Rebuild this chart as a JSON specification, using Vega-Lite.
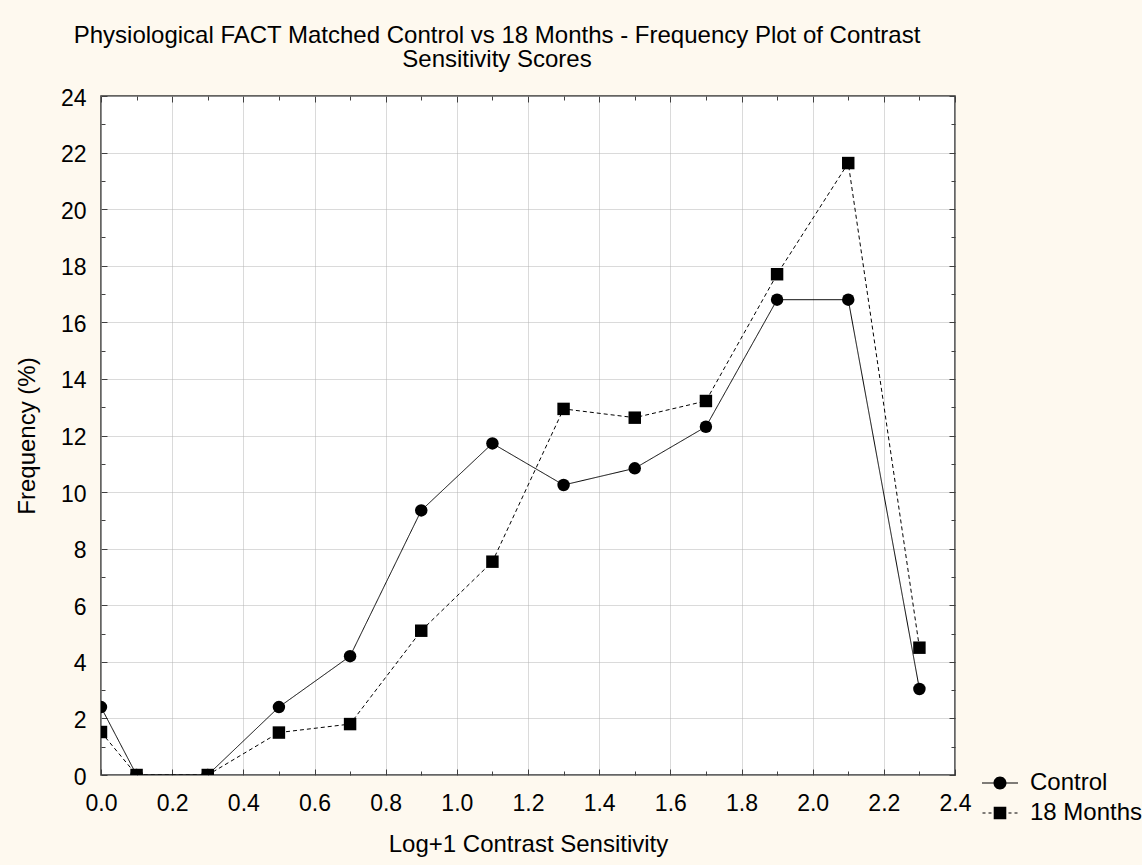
{
  "$schema": "https://vega.github.io/schema/vega-lite/v6.json",
  "width": 854,
  "height": 679,
  "autosize": {"type": "none"},
  "padding": {"left": 101, "top": 96, "right": 187, "bottom": 90},
  "background": "#FEF9EF",
  "config": {
    "view": {"stroke": "#333333", "strokeWidth": 1.5, "fill": "white"},
    "font": "Liberation Sans",
    "axis": {
      "labelFont": "Liberation Sans",
      "labelFontSize": 23,
      "labelColor": "black",
      "titleFont": "Liberation Sans",
      "titleFontSize": 24,
      "titleFontWeight": "normal",
      "titleColor": "black",
      "tickColor": "#404040",
      "tickWidth": 1,
      "domain": false,
      "labelOverlap": false,
      "labelFlush": false
    }
  },
  "title": {
    "text": ["Physiological FACT Matched Control vs 18 Months - Frequency Plot of Contrast", "Sensitivity Scores"],
    "font": "Liberation Sans",
    "fontSize": 24,
    "fontWeight": "normal",
    "color": "black",
    "anchor": "middle",
    "frame": "group",
    "dx": -31,
    "dy": 35,
    "offset": 26,
    "baseline": "bottom",
    "lineHeight": 24
  },
  "data": {
    "values": [
      {"x": 0.0, "group": "Control", "freq": 2.4},
      {"x": 0.1, "group": "Control", "freq": 0},
      {"x": 0.3, "group": "Control", "freq": 0},
      {"x": 0.5, "group": "Control", "freq": 2.4},
      {"x": 0.7, "group": "Control", "freq": 4.2},
      {"x": 0.9, "group": "Control", "freq": 9.35},
      {"x": 1.1, "group": "Control", "freq": 11.72},
      {"x": 1.3, "group": "Control", "freq": 10.25},
      {"x": 1.5, "group": "Control", "freq": 10.84},
      {"x": 1.7, "group": "Control", "freq": 12.31},
      {"x": 1.9, "group": "Control", "freq": 16.8},
      {"x": 2.1, "group": "Control", "freq": 16.8},
      {"x": 2.3, "group": "Control", "freq": 3.04},
      {"x": 0.0, "group": "18 Months", "freq": 1.52},
      {"x": 0.1, "group": "18 Months", "freq": 0},
      {"x": 0.3, "group": "18 Months", "freq": 0},
      {"x": 0.5, "group": "18 Months", "freq": 1.5},
      {"x": 0.7, "group": "18 Months", "freq": 1.8},
      {"x": 0.9, "group": "18 Months", "freq": 5.1},
      {"x": 1.1, "group": "18 Months", "freq": 7.54},
      {"x": 1.3, "group": "18 Months", "freq": 12.94},
      {"x": 1.5, "group": "18 Months", "freq": 12.63},
      {"x": 1.7, "group": "18 Months", "freq": 13.22},
      {"x": 1.9, "group": "18 Months", "freq": 17.7},
      {"x": 2.1, "group": "18 Months", "freq": 21.63},
      {"x": 2.3, "group": "18 Months", "freq": 4.5}
    ]
  },
  "resolve": {
    "scale": {"shape": "independent"},
    "axis": {"x": "independent", "y": "independent"}
  },
  "layer": [
    {
      "mark": {"type": "point", "opacity": 0, "size": 0},
      "encoding": {
        "x": {"field": "x", "type": "quantitative", "scale": {"domain": [0, 2.4], "nice": false, "zero": false},
          "axis": {"orient": "bottom", "values": [0, 0.2, 0.4, 0.6, 0.8, 1, 1.2, 1.4, 1.6, 1.8, 2, 2.2, 2.4], "tickSize": -6, "labels": false, "grid": false, "title": null}},
        "y": {"field": "freq", "type": "quantitative", "scale": {"domain": [0, 24], "nice": false},
          "axis": {"orient": "left", "values": [0, 2, 4, 6, 8, 10, 12, 14, 16, 18, 20, 22, 24], "tickSize": -6, "labels": false, "grid": false, "title": null}}
      }
    },
    {
      "mark": {"type": "point", "opacity": 0, "size": 0},
      "encoding": {
        "x": {"field": "x", "type": "quantitative",
          "axis": {"orient": "top", "values": [0, 0.2, 0.4, 0.6, 0.8, 1, 1.2, 1.4, 1.6, 1.8, 2, 2.2, 2.4], "tickSize": -6, "labels": false, "grid": false, "title": null}},
        "y": {"field": "freq", "type": "quantitative",
          "axis": {"orient": "right", "values": [0, 2, 4, 6, 8, 10, 12, 14, 16, 18, 20, 22, 24], "tickSize": -6, "labels": false, "grid": false, "title": null}}
      }
    },
    {
      "mark": {"type": "point", "opacity": 0, "size": 0},
      "encoding": {
        "x": {"field": "x", "type": "quantitative",
          "axis": {"orient": "bottom", "values": [0.1, 0.3, 0.5, 0.7, 0.9, 1.1, 1.3, 1.5, 1.7, 1.9, 2.1, 2.3], "tickSize": -4, "labels": false, "grid": false, "title": null}},
        "y": {"field": "freq", "type": "quantitative",
          "axis": {"orient": "left", "values": [1, 3, 5, 7, 9, 11, 13, 15, 17, 19, 21, 23], "tickSize": -4, "labels": false, "grid": false, "title": null}}
      }
    },
    {
      "mark": {"type": "point", "opacity": 0, "size": 0},
      "encoding": {
        "x": {"field": "x", "type": "quantitative",
          "axis": {"orient": "top", "values": [0.1, 0.3, 0.5, 0.7, 0.9, 1.1, 1.3, 1.5, 1.7, 1.9, 2.1, 2.3], "tickSize": -4, "labels": false, "grid": false, "title": null}},
        "y": {"field": "freq", "type": "quantitative",
          "axis": {"orient": "right", "values": [1, 3, 5, 7, 9, 11, 13, 15, 17, 19, 21, 23], "tickSize": -4, "labels": false, "grid": false, "title": null}}
      }
    },
    {
      "mark": {"type": "line", "color": "black", "strokeWidth": 1, "clip": true},
      "encoding": {
        "x": {"field": "x", "type": "quantitative",
          "axis": {"orient": "bottom", "values": [0, 0.2, 0.4, 0.6, 0.8, 1, 1.2, 1.4, 1.6, 1.8, 2, 2.2, 2.4], "format": ".1f", "ticks": false, "grid": true, "gridColor": "#b5b5b5", "gridDash": [1, 1], "gridWidth": 1, "labelPadding": 17, "labelBaseline": "top", "title": "Log+1 Contrast Sensitivity", "titleY": 76, "titleBaseline": "alphabetic"}},
        "y": {"field": "freq", "type": "quantitative",
          "axis": {"orient": "left", "values": [0, 2, 4, 6, 8, 10, 12, 14, 16, 18, 20, 22, 24], "format": "d", "ticks": false, "grid": true, "gridColor": "#b5b5b5", "gridDash": [1, 1], "gridWidth": 1, "labelPadding": 15, "labelOffset": 2, "title": "Frequency (%)", "titleFontSize": 24, "titleX": -67, "titleY": 339.5, "titleAngle": -90, "titleBaseline": "alphabetic", "titleAlign": "center"}},
        "strokeDash": {"field": "group", "type": "nominal", "scale": {"domain": ["Control", "18 Months"], "range": [[1, 0], [4, 3]]}, "legend": null},
        "detail": {"field": "group", "type": "nominal"}
      }
    },
    {
      "mark": {"type": "point", "filled": true, "color": "black", "opacity": 1, "size": 155, "clip": true},
      "encoding": {
        "x": {"field": "x", "type": "quantitative", "axis": null},
        "y": {"field": "freq", "type": "quantitative", "axis": null},
        "shape": {"field": "group", "type": "nominal", "scale": {"domain": ["Control", "18 Months"], "range": ["circle", "square"]}, "legend": null}
      }
    },
    {
      "mark": {"type": "point", "filled": true, "color": "black", "opacity": 1, "size": 0},
      "encoding": {
        "x": {"field": "x", "type": "quantitative", "axis": null},
        "y": {"field": "freq", "type": "quantitative", "axis": null},
        "shape": {"field": "group", "type": "nominal",
          "scale": {"domain": ["Control", "18 Months"], "range": [
            "M-1.8,-0.06H-0.6V0.06H-1.8Z M0.6,-0.06H1.8V0.06H0.6Z M-0.65,0A0.65,0.65 0 1,1 0.65,0A0.65,0.65 0 1,1 -0.65,0Z",
            "M-1.75,-0.06H-1.45V0.06H-1.75Z M-1.15,-0.06H-0.85V0.06H-1.15Z M0.85,-0.06H1.15V0.06H0.85Z M1.45,-0.06H1.75V0.06H1.45Z M-0.63,-0.63H0.63V0.63H-0.63Z"
          ]},
          "legend": {"title": null, "orient": "none", "legendX": 887, "legendY": 675, "symbolSize": 400, "symbolFillColor": "black", "symbolStrokeWidth": 0, "labelFont": "Liberation Sans", "labelFontSize": 24, "labelColor": "black", "labelOffset": 18, "rowPadding": 6, "padding": 0}
        }
      }
    }
  ]
}
